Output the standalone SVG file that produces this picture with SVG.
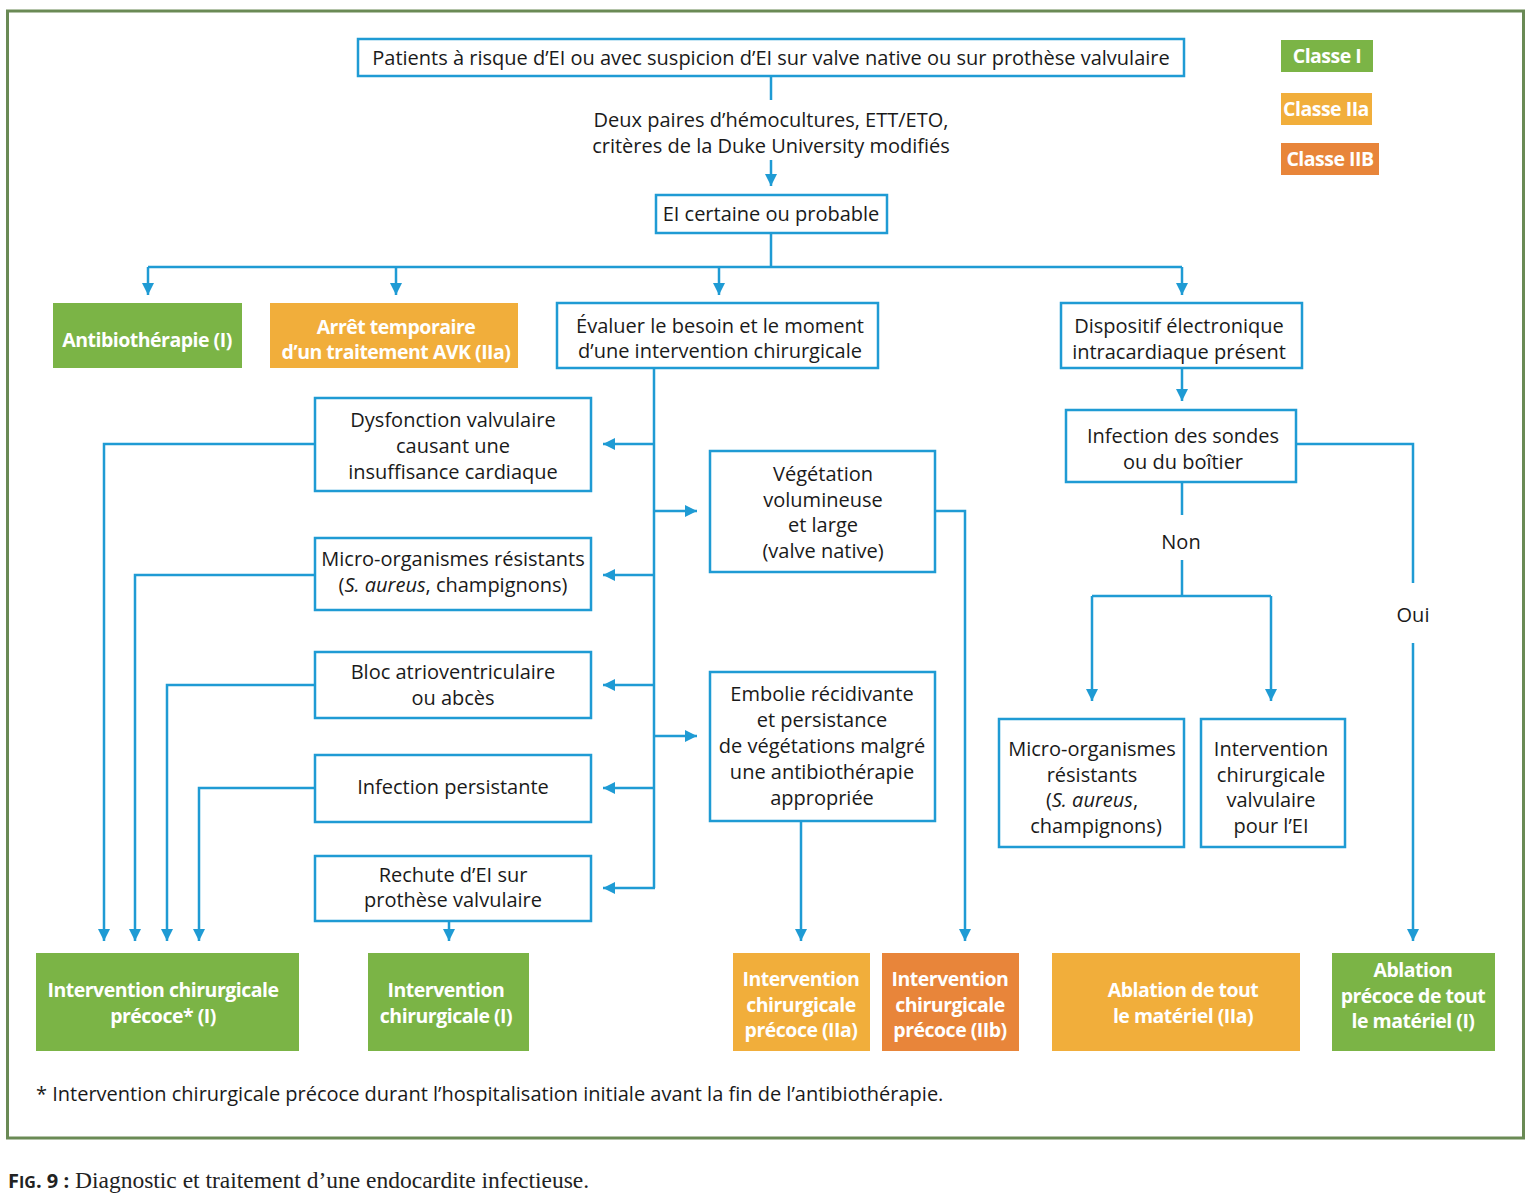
<svg xmlns="http://www.w3.org/2000/svg" width="1528" height="1202" viewBox="0 0 1528 1202">
<style>
.t{font-family:"Open Sans","Noto Sans","Liberation Sans",sans-serif;font-size:20px;fill:#1a1a1a;text-anchor:middle}
.w{font-family:"Open Sans","Noto Sans","Liberation Sans",sans-serif;font-size:19.5px;font-weight:bold;fill:#ffffff;text-anchor:middle;letter-spacing:-0.5px}
.b{fill:#ffffff;stroke:#1f9bd4;stroke-width:2.5}
.g{fill:#7bb446}
.o{fill:#f1ae3b}
.d{fill:#e8853a}
.c{fill:none;stroke:#1f9bd4;stroke-width:2.5}
</style>
<defs>
<marker id="ar" markerUnits="userSpaceOnUse" markerWidth="14" markerHeight="14" refX="12" refY="6" orient="auto">
<path d="M0,0 L12,6 L0,12 z" fill="#1f9bd4"/>
</marker>
</defs>
<rect x="0" y="0" width="1528" height="1202" fill="#ffffff"/>
<rect x="7.5" y="11" width="1516" height="1127" fill="none" stroke="#6a8a55" stroke-width="3"/>

<g id="connectors">
<path class="c" d="M771,76 V100"/>
<path class="c" d="M771,160 V186" marker-end="url(#ar)"/>
<path class="c" d="M771,233 V267 M148,267 H1182"/>
<path class="c" d="M148,267 V295" marker-end="url(#ar)"/>
<path class="c" d="M396,267 V295" marker-end="url(#ar)"/>
<path class="c" d="M719,267 V295" marker-end="url(#ar)"/>
<path class="c" d="M1182,267 V295" marker-end="url(#ar)"/>
<path class="c" d="M654,368 V888"/>
<path class="c" d="M654,444 H603" marker-end="url(#ar)"/>
<path class="c" d="M654,575 H603" marker-end="url(#ar)"/>
<path class="c" d="M654,685 H603" marker-end="url(#ar)"/>
<path class="c" d="M654,788 H603" marker-end="url(#ar)"/>
<path class="c" d="M655,888 H603" marker-end="url(#ar)"/>
<path class="c" d="M654,511 H697" marker-end="url(#ar)"/>
<path class="c" d="M654,736 H697" marker-end="url(#ar)"/>
<path class="c" d="M315,444 H104 V941" marker-end="url(#ar)"/>
<path class="c" d="M315,575 H135 V941" marker-end="url(#ar)"/>
<path class="c" d="M315,685 H167 V941" marker-end="url(#ar)"/>
<path class="c" d="M315,788 H199 V941" marker-end="url(#ar)"/>
<path class="c" d="M449,921 V941" marker-end="url(#ar)"/>
<path class="c" d="M935,511 H965 V941" marker-end="url(#ar)"/>
<path class="c" d="M801,821 V941" marker-end="url(#ar)"/>
<path class="c" d="M1182,368 V401" marker-end="url(#ar)"/>
<path class="c" d="M1182,482 V515 M1182,560 V596 M1092,596 H1271"/>
<path class="c" d="M1092,596 V701" marker-end="url(#ar)"/>
<path class="c" d="M1271,596 V701" marker-end="url(#ar)"/>
<path class="c" d="M1296,444 H1413 V583"/>
<path class="c" d="M1413,643 V941" marker-end="url(#ar)"/>
</g>

<g id="n-patients"><rect class="b" x="358" y="39" width="826" height="37"/><text class="t" x="771" y="65">Patients à risque d’EI ou avec suspicion d’EI sur valve native ou sur prothèse valvulaire</text></g>
<g id="n-deux"><text class="t" x="771" y="127">Deux paires d’hémocultures, ETT/ETO,</text><text class="t" x="771" y="153">critères de la Duke University modifiés</text></g>
<g id="n-ei"><rect class="b" x="656" y="195" width="231" height="38"/><text class="t" x="771" y="221">EI certaine ou probable</text></g>

<g id="legend-1"><rect class="g" x="1281" y="40" width="92" height="32"/><text class="w" x="1327" y="63">Classe I</text></g>
<g id="legend-2"><rect class="o" x="1281" y="93" width="91" height="32"/><text class="w" x="1326" y="116">Classe IIa</text></g>
<g id="legend-3"><rect class="d" x="1281" y="143" width="98" height="32"/><text class="w" x="1330" y="166">Classe IIB</text></g>

<g id="n-antibio"><rect class="g" x="53" y="303" width="189" height="65"/><text class="w" x="147" y="347">Antibiothérapie (I)</text></g>
<g id="n-arret"><rect class="o" x="270" y="303" width="248" height="65"/><text class="w" x="396" y="334">Arrêt temporaire</text><text class="w" x="396" y="359">d’un traitement AVK (IIa)</text></g>
<g id="n-evaluer"><rect class="b" x="557" y="303" width="321" height="65"/><text class="t" x="720" y="333">Évaluer le besoin et le moment</text><text class="t" x="720" y="358">d’une intervention chirurgicale</text></g>
<g id="n-dispositif"><rect class="b" x="1061" y="303" width="241" height="65"/><text class="t" x="1179" y="333">Dispositif électronique</text><text class="t" x="1179" y="359">intracardiaque présent</text></g>

<g id="n-dysfonction"><rect class="b" x="315" y="398" width="276" height="93"/><text class="t" x="453" y="427">Dysfonction valvulaire</text><text class="t" x="453" y="453">causant une</text><text class="t" x="453" y="479">insuffisance cardiaque</text></g>
<g id="n-micro1"><rect class="b" x="315" y="538" width="276" height="72"/><text class="t" x="453" y="566">Micro-organismes résistants</text><text class="t" x="453" y="592">(<tspan font-style="italic">S. aureus</tspan>, champignons)</text></g>
<g id="n-bloc"><rect class="b" x="315" y="652" width="276" height="66"/><text class="t" x="453" y="679">Bloc atrioventriculaire</text><text class="t" x="453" y="705">ou abcès</text></g>
<g id="n-infpers"><rect class="b" x="315" y="755" width="276" height="67"/><text class="t" x="453" y="794">Infection persistante</text></g>
<g id="n-rechute"><rect class="b" x="315" y="856" width="276" height="65"/><text class="t" x="453" y="882">Rechute d’EI sur</text><text class="t" x="453" y="907">prothèse valvulaire</text></g>

<g id="n-vegetation"><rect class="b" x="710" y="451" width="225" height="121"/><text class="t" x="823" y="481">Végétation</text><text class="t" x="823" y="507">volumineuse</text><text class="t" x="823" y="532">et large</text><text class="t" x="823" y="558">(valve native)</text></g>
<g id="n-embolie"><rect class="b" x="710" y="672" width="225" height="149"/><text class="t" x="822" y="701">Embolie récidivante</text><text class="t" x="822" y="727">et persistance</text><text class="t" x="822" y="753">de végétations malgré</text><text class="t" x="822" y="779">une antibiothérapie</text><text class="t" x="822" y="805">appropriée</text></g>

<g id="n-infsondes"><rect class="b" x="1066" y="410" width="230" height="72"/><text class="t" x="1183" y="443">Infection des sondes</text><text class="t" x="1183" y="469">ou du boîtier</text></g>
<g id="l-non"><text class="t" x="1181" y="549">Non</text></g>
<g id="l-oui"><text class="t" x="1413" y="622">Oui</text></g>
<g id="n-micro2"><rect class="b" x="999" y="719" width="185" height="128"/><text class="t" x="1092" y="756">Micro-organismes</text><text class="t" x="1092" y="782">résistants</text><text class="t" x="1092" y="807">(<tspan font-style="italic">S. aureus</tspan>,</text><text class="t" x="1096" y="833">champignons)</text></g>
<g id="n-intvalv"><rect class="b" x="1201" y="719" width="144" height="128"/><text class="t" x="1271" y="756">Intervention</text><text class="t" x="1271" y="782">chirurgicale</text><text class="t" x="1271" y="807">valvulaire</text><text class="t" x="1271" y="833">pour l’EI</text></g>

<g id="n-icp"><rect class="g" x="36" y="953" width="263" height="98"/><text class="w" x="163" y="997">Intervention chirurgicale</text><text class="w" x="163" y="1023">précoce* (I)</text></g>
<g id="n-ic"><rect class="g" x="368" y="953" width="161" height="98"/><text class="w" x="446" y="997">Intervention</text><text class="w" x="446" y="1023">chirurgicale (I)</text></g>
<g id="n-icpIIa"><rect class="o" x="733" y="953" width="137" height="98"/><text class="w" x="801" y="986">Intervention</text><text class="w" x="801" y="1012">chirurgicale</text><text class="w" x="801" y="1037">précoce (IIa)</text></g>
<g id="n-icpIIb"><rect class="d" x="882" y="953" width="137" height="98"/><text class="w" x="950" y="986">Intervention</text><text class="w" x="950" y="1012">chirurgicale</text><text class="w" x="950" y="1037">précoce (IIb)</text></g>
<g id="n-ablIIa"><rect class="o" x="1052" y="953" width="248" height="98"/><text class="w" x="1183" y="997">Ablation de tout</text><text class="w" x="1183" y="1023">le matériel (IIa)</text></g>
<g id="n-ablI"><rect class="g" x="1332" y="953" width="163" height="98"/><text class="w" x="1413" y="977">Ablation</text><text class="w" x="1413" y="1003">précoce de tout</text><text class="w" x="1413" y="1028">le matériel (I)</text></g>

<g id="footnote"><text class="t" x="36" y="1101" style="text-anchor:start">* Intervention chirurgicale précoce durant l’hospitalisation initiale avant la fin de l’antibiothérapie.</text></g>
<g id="caption"><text x="8" y="1188" font-family="'Liberation Serif',serif" font-size="23.5" fill="#222222"><tspan font-family="'Open Sans','Liberation Sans',sans-serif" font-weight="bold" font-size="20">F<tspan font-size="16">IG</tspan>. 9 :</tspan> Diagnostic et traitement d’une endocardite infectieuse.</text></g>
</svg>
